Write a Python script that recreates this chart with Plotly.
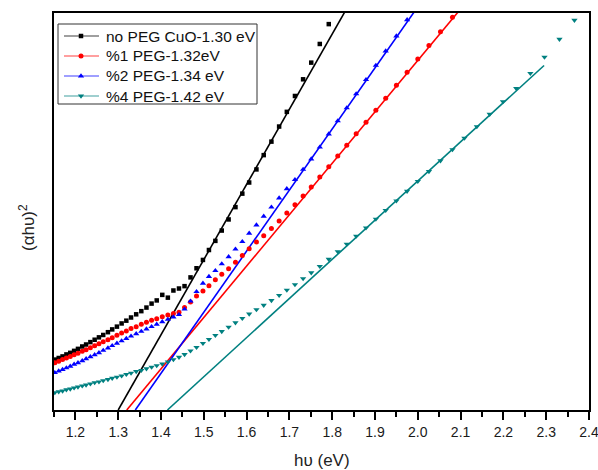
import plotly.graph_objects as go

# Photon energy grid (eV)
energy = [1.152, 1.161, 1.170, 1.179, 1.188, 1.197, 1.206, 1.216, 1.225, 1.235,
          1.245, 1.255, 1.265, 1.276, 1.286, 1.297, 1.308, 1.319, 1.330, 1.342,
          1.354, 1.366, 1.378, 1.390, 1.403, 1.416, 1.429, 1.442, 1.455, 1.469,
          1.483, 1.498, 1.512, 1.527, 1.542, 1.558, 1.574, 1.590, 1.606, 1.623,
          1.640, 1.658, 1.676, 1.694, 1.713, 1.732, 1.751, 1.771, 1.792, 1.813,
          1.834, 1.856, 1.879, 1.902, 1.925, 1.950, 1.975, 2.000, 2.026, 2.053,
          2.081, 2.109, 2.138, 2.168, 2.199, 2.230, 2.263, 2.296, 2.331, 2.366]

# (alpha h nu)^2, arbitrary units
no_peg = [12.7, 13.1, 13.5, 14.0, 14.4, 14.9, 15.4, 16.0, 16.5, 17.1,
          17.7, 18.3, 18.9, 19.6, 20.3, 21.0, 21.8, 22.5, 23.3, 24.1,
          24.9, 25.8, 26.8, 27.6, 29.0, 28.3, 30.1, 30.6, 31.2, 33.4,
          35.7, 37.8, 40.3, 42.6, 45.2, 48.0, 51.1, 54.5, 57.3, 60.6,
          64.2, 67.6, 71.4, 75.1, 79.1, 83.3, 87.5, 92.2, 97.2]

peg1 = [11.9, 12.3, 12.7, 13.1, 13.5, 13.9, 14.3, 14.8, 15.2, 15.7,
        16.2, 16.7, 17.2, 17.7, 18.2, 18.8, 19.4, 19.9, 20.5, 21.0,
        21.6, 22.1, 22.6, 23.0, 23.5, 23.9, 24.3, 24.6, 25.8, 27.2,
        28.7, 30.0, 31.3, 32.8, 34.2, 35.6, 37.2, 38.9, 40.6, 42.3,
        43.9, 45.7, 47.6, 49.6, 51.7, 53.9, 56.2, 58.7, 61.3, 64.0,
        66.7, 69.6, 72.5, 75.5, 78.5, 81.8, 85.1, 88.4, 91.8, 95.3,
        98.9]

peg2 = [9.4, 9.8, 10.2, 10.6, 11.0, 11.5, 11.9, 12.4, 12.9, 13.4,
        13.9, 14.4, 15.0, 15.6, 16.2, 16.8, 17.4, 18.0, 18.6, 19.2,
        19.8, 20.4, 21.0, 21.6, 22.2, 22.8, 23.4, 24.0, 25.4, 27.4,
        29.8, 31.9, 33.6, 35.1, 36.8, 38.6, 40.5, 42.4, 44.5, 46.6,
        48.8, 51.1, 53.4, 55.7, 58.0, 60.6, 63.2, 66.2, 69.5, 72.8,
        76.1, 79.6, 83.2, 86.8, 90.4, 94.2, 98.3]

peg4 = [4.4, 4.6, 4.8, 5.1, 5.3, 5.6, 5.8, 6.1, 6.3, 6.6,
        6.9, 7.1, 7.4, 7.7, 8.0, 8.3, 8.6, 9.0, 9.3, 9.7,
        10.0, 10.4, 10.8, 11.2, 11.6, 12.1, 12.7, 13.3, 14.0, 14.9,
        15.8, 16.8, 17.8, 18.8, 19.8, 20.9, 22.0, 23.1, 24.2, 25.3,
        26.4, 27.6, 28.9, 30.2, 31.6, 33.1, 34.6, 36.2, 38.0, 39.9,
        41.8, 43.8, 45.9, 48.1, 50.3, 52.7, 55.1, 57.6, 60.1, 62.8,
        65.6, 68.5, 71.4, 74.5, 77.7, 81.0, 84.8, 88.9, 93.4, 98.2]

series_names = ["no PEG CuO-1.30 eV", "%1 PEG-1.32eV", "%2 PEG-1.34 eV", "%4 PEG-1.42 eV"]
series_values = [no_peg, peg1, peg2, peg4]
colors = ["#000000", "#ff0000", "#0000ff", "#008080"]
symbols = ["square", "circle", "triangle-up", "triangle-down"]
sizes = [4.5, 5, 5.5, 5.5]

# Linear (Tauc) fits: intercept energy, slope, end energy
fit_x0 = [1.30, 1.32, 1.34, 1.415]
fit_slope = [189.4, 129.5, 153.9, 98.6]
fit_x1 = [1.84, 2.10, 2.00, 2.295]

x_ticks = [1.2, 1.3, 1.4, 1.5, 1.6, 1.7, 1.8, 1.9, 2.0, 2.1, 2.2, 2.3, 2.4]
x_tick_labels = ["1.2", "1.3", "1.4", "1.5", "1.6", "1.7", "1.8", "1.9", "2.0", "2.1", "2.2", "2.3", "2.4"]

FONT = "Arial, 'Liberation Sans', sans-serif"

# layout geometry (pixels)
W, H = 598, 470
L, R, T, B = 54, 9, 13, 60
PW, PH = W - L - R, H - T - B


def px_u(px):
    return (px - L) / PW


def py_v(py):
    return (H - B - py) / PH


fig = go.Figure()

# fit lines
for x0, k, x1, c in zip(fit_x0, fit_slope, fit_x1, colors):
    fig.add_trace(go.Scatter(x=[x0, x1], y=[0, k * (x1 - x0)], mode="lines",
                             line=dict(color=c, width=1.6), showlegend=False,
                             hoverinfo="skip"))

# data points
for name, vals, c, s, sz in zip(series_names, series_values, colors, symbols, sizes):
    fig.add_trace(go.Scatter(x=energy[:len(vals)], y=vals, mode="markers", name=name,
                             marker=dict(color=c, symbol=s, size=sz, line=dict(width=0)),
                             showlegend=False))

# legend (drawn on a hidden overlay axis spanning the plot area)
leg_box = (58, 24, 257, 104)
row_y = [36, 56, 76, 96]
line_x = (64, 99)
mark_x = 81
text_x = 104
annotations = []
for name, c, s, sz, ry in zip(series_names, colors, symbols, sizes, row_y):
    fig.add_trace(go.Scatter(x=[px_u(line_x[0]), px_u(line_x[1])], y=[py_v(ry), py_v(ry)],
                             xaxis="x2", yaxis="y2", mode="lines",
                             line=dict(color=c, width=1), opacity=0.75,
                             showlegend=False, hoverinfo="skip"))
    fig.add_trace(go.Scatter(x=[px_u(mark_x)], y=[py_v(ry)], xaxis="x2", yaxis="y2",
                             mode="markers", marker=dict(color=c, symbol=s, size=sz),
                             showlegend=False, hoverinfo="skip"))
    annotations.append(dict(text=name, xref="paper", yref="paper", x=px_u(text_x),
                            y=py_v(ry), xanchor="left", yanchor="middle", showarrow=False,
                            font=dict(size=15.5, family=FONT, color="#111111")))

annotations += [
    dict(text="h\u03c5 (eV)", xref="paper", yref="paper", x=0.5, y=py_v(460),
         xanchor="center", yanchor="middle", showarrow=False,
         font=dict(size=17, family=FONT, color="#222222")),
    dict(text="(\u03b1h\u03c5)<sup>2</sup>", xref="paper", yref="paper",
         x=px_u(27), y=py_v(228), xanchor="center", yanchor="middle",
         textangle=-90, showarrow=False,
         font=dict(size=17, family=FONT, color="#222222")),
]

fig.update_layout(
    width=W, height=H,
    margin=dict(l=L, r=R, t=T, b=B, autoexpand=False),
    paper_bgcolor="white", plot_bgcolor="white",
    font=dict(family=FONT, color="#222222"),
    showlegend=False,
    xaxis=dict(range=[1.15, 2.4], tickvals=x_ticks, ticktext=x_tick_labels,
               automargin=False, ticklabeloverflow="allow",
               showline=True, linecolor="black", linewidth=2, mirror=True,
               ticks="outside", ticklen=8, tickwidth=1.5, tickcolor="black",
               minor=dict(dtick=0.05, tick0=1.15, ticks="outside", ticklen=5,
                          tickwidth=1.5, tickcolor="black"),
               tickfont=dict(size=14, family=FONT, color="#1a1a1a"),
               showgrid=False, zeroline=False),
    yaxis=dict(range=[0, 100], automargin=False,
               showline=True, linecolor="black", linewidth=2,
               mirror=True, ticks="", showticklabels=False, showgrid=False,
               zeroline=False),
    xaxis2=dict(range=[0, 1], overlaying="x", visible=False, fixedrange=True,
                automargin=False),
    yaxis2=dict(range=[0, 1], overlaying="y", visible=False, fixedrange=True,
                automargin=False),
    shapes=[dict(type="rect", xref="paper", yref="paper",
                 x0=px_u(leg_box[0]), x1=px_u(leg_box[2]),
                 y0=py_v(leg_box[3]), y1=py_v(leg_box[1]),
                 line=dict(color="#333333", width=1), fillcolor="rgba(0,0,0,0)",
                 layer="above")],
    annotations=annotations,
)

fig.write_html("out.html", config={"displayModeBar": False},
               post_script="document.body.style.margin='0';document.body.style.overflow='hidden';")
